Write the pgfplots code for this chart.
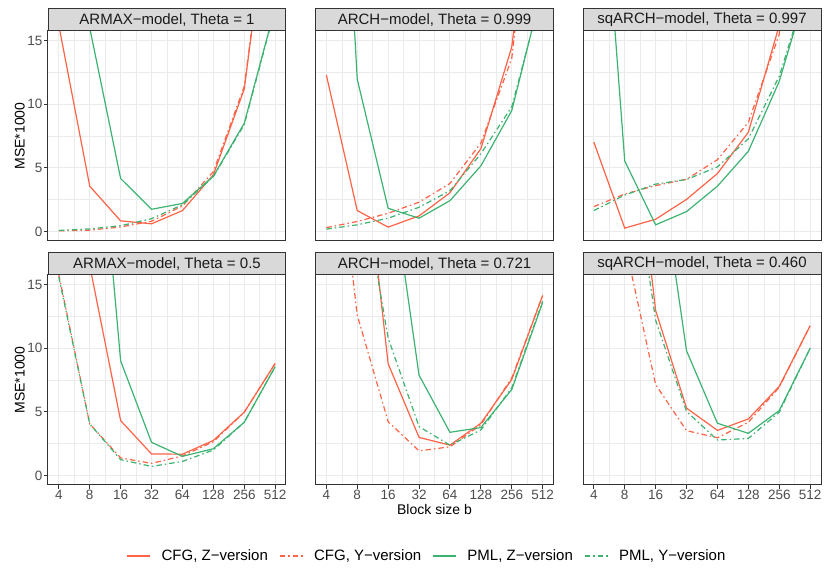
\documentclass[border=0pt]{standalone}
\usepackage{pgfplots}
\pgfplotsset{compat=1.18}
\usepackage{pgfplotstable}
\usepackage{fontspec}
\setmainfont{Liberation Sans}

\definecolor{cfg}{HTML}{FF6347}
\definecolor{pml}{HTML}{3CB371}
\definecolor{gridc}{HTML}{EBEBEB}
\definecolor{g20}{HTML}{333333}
\definecolor{g30}{HTML}{4D4D4D}
\definecolor{g85}{HTML}{D9D9D9}
\definecolor{g10}{HTML}{1A1A1A}

% x = log2(block size), columns: CFG Z, CFG Y, PML Z, PML Y
\pgfplotstableread{
b cz cy pz py
2 16.2 0.05 40 0.08
3 3.56 0.10 16 0.20
4 0.83 0.35 4.16 0.45
5 0.60 0.80 1.74 1.00
6 1.64 2.00 2.20 2.10
7 4.45 4.70 4.34 4.30
8 11.2 11.4 8.50 8.40
9 30 30 17.6 17.5
}\armaxA
\pgfplotstableread{
b cz cy pz py
2 12.3 0.30 56 0.18
3 1.64 0.78 11.96 0.52
4 0.34 1.43 1.82 1.04
5 1.22 2.30 1.04 1.90
6 3.04 3.77 2.42 3.20
7 6.50 6.94 5.15 6.10
8 14.5 13.6 9.50 9.80
9 35 35 19.2 19.0
}\archA
\pgfplotstableread{
b cz cy pz py
2 7.02 1.95 38 1.64
3 0.26 2.94 5.54 2.86
4 0.96 3.60 0.52 3.72
5 2.52 4.10 1.56 4.08
6 4.55 5.64 3.56 5.07
7 7.80 8.58 6.30 7.28
8 16.2 15.5 11.8 12.2
9 40 40 20 20
}\sqarchA
\pgfplotstableread{
b cz cy pz py
2 45 15.8 60 15.6
3 16.5 4.05 36.5 4.05
4 4.31 1.38 9.00 1.24
5 1.69 0.95 2.60 0.71
6 1.67 1.53 1.50 1.10
7 2.75 2.65 2.10 2.00
8 4.97 4.97 4.18 4.18
9 8.80 8.80 8.55 8.55
}\armaxB
\pgfplotstableread{
b cz cy pz py
2 60 33.6 70 60
3 30.6 12.6 45 24.9
4 8.78 4.23 25 10.8
5 2.99 1.93 7.88 3.84
6 2.38 2.25 3.39 2.38
7 4.10 3.97 3.76 3.57
8 7.54 7.67 6.75 6.88
9 14.15 14.15 13.6 13.7
}\archB
\pgfplotstableread{
b cz cy pz py
2 60 40 70 60
3 34 18.3 50 28.7
4 12.96 7.14 26.6 12.2
5 5.29 3.52 9.79 5.03
6 3.54 2.96 4.10 2.78
7 4.44 4.18 3.31 2.91
8 7.00 6.93 5.10 4.97
9 11.77 11.77 10.0 10.0
}\sqarchB

\pgfplotsset{
  panel/.style={
    scale only axis, width=238pt, height=210pt, anchor=south west,
    xmin=1.65, xmax=9.35, ymin=-0.75, ymax=15.75,
    xtick={2,...,9}, minor xtick={2.5,3.5,...,8.5},
    ytick={0,5,10,15}, minor ytick={2.5,7.5,12.5},
    grid=both,
    major grid style={gridc, line width=1pt},
    minor grid style={gridc, line width=0.5pt},
    axis line style={g20, line width=1pt},
    tick align=outside, tick pos=left,
    major tick length=4pt, minor tick length=0pt,
    tick style={g20, line width=1pt},
    tick label style={font=\fontsize{13.5}{16}\selectfont, text=g30},
    xticklabel style={inner sep=1pt},
    yticklabel style={inner sep=1.5pt},
    /pgf/number format/assume math mode=true,
    every axis y label/.style={at={(axis description cs:-0.118,0.5)}, rotate=90, anchor=center, font=\fontsize{14}{16}\selectfont},
    every axis x label/.style={at={(axis description cs:0.5,-0.119)}, anchor=center, font=\fontsize{14}{16}\selectfont},
  },
  toprow/.style={xticklabels={}, xtick style={draw=none}},
  botrow/.style={xticklabels={4,8,16,32,64,128,256,512}},
  leftcol/.style={yticklabels={0,5,10,15}, ylabel={MSE*1000}},
  othercol/.style={yticklabels={}, ytick style={draw=none}},
  cfgz/.style={cfg, line width=1.2pt},
  cfgy/.style={cfg, line width=1.2pt, dash pattern=on 5.5pt off 3pt on 1.5pt off 3pt},
  pmlz/.style={pml, line width=1.2pt},
  pmly/.style={pml, line width=1.2pt, dash pattern=on 5.5pt off 3pt on 1.5pt off 3pt},
}

\newcommand{\strip}[2]{%
  \draw[fill=g85, draw=g20, line width=1pt] (#1.north west) rectangle ([yshift=22pt]#1.north east);
  \node[font=\fontsize{15}{18}\selectfont, text=g10] at ([yshift=11pt]#1.north) {#2};}

\begin{document}
\begin{tikzpicture}
\useasboundingbox (0,0) rectangle (824pt,569pt);

\begin{axis}[panel, toprow, leftcol, name=p1, at={(48pt,328pt)}]
\addplot[cfgz] table[x=b, y=cz] {\armaxA};
\addplot[cfgy] table[x=b, y=cy] {\armaxA};
\addplot[pmlz] table[x=b, y=pz] {\armaxA};
\addplot[pmly] table[x=b, y=py] {\armaxA};
\end{axis}

\begin{axis}[panel, toprow, othercol, name=p2, at={(315.5pt,328pt)}]
\addplot[cfgz] table[x=b, y=cz] {\archA};
\addplot[cfgy] table[x=b, y=cy] {\archA};
\addplot[pmlz] table[x=b, y=pz] {\archA};
\addplot[pmly] table[x=b, y=py] {\archA};
\end{axis}

\begin{axis}[panel, toprow, othercol, name=p3, at={(583pt,328pt)}]
\addplot[cfgz] table[x=b, y=cz] {\sqarchA};
\addplot[cfgy] table[x=b, y=cy] {\sqarchA};
\addplot[pmlz] table[x=b, y=pz] {\sqarchA};
\addplot[pmly] table[x=b, y=py] {\sqarchA};
\end{axis}

\begin{axis}[panel, botrow, leftcol, name=p4, at={(48pt,84pt)}]
\addplot[cfgz] table[x=b, y=cz] {\armaxB};
\addplot[cfgy] table[x=b, y=cy] {\armaxB};
\addplot[pmlz] table[x=b, y=pz] {\armaxB};
\addplot[pmly] table[x=b, y=py] {\armaxB};
\end{axis}

\begin{axis}[panel, botrow, othercol, name=p5, at={(315.5pt,84pt)},
  xlabel={Block size b},
  legend columns=4,
  legend image code/.code={\draw[#1] (0pt,0pt) -- (23pt,0pt);},
  legend style={at={(axis description cs:0.464,-0.338)}, anchor=center,
    draw=none, fill=none, font=\fontsize{15}{18}\selectfont,
    nodes={inner sep=0pt}, /tikz/column sep=11pt},
]
\addplot[cfgz] table[x=b, y=cz] {\archB};
\addlegendentry{CFG, Z−version}
\addplot[cfgy] table[x=b, y=cy] {\archB};
\addlegendentry{CFG, Y−version}
\addplot[pmlz] table[x=b, y=pz] {\archB};
\addlegendentry{PML, Z−version}
\addplot[pmly] table[x=b, y=py] {\archB};
\addlegendentry{PML, Y−version}
\end{axis}

\begin{axis}[panel, botrow, othercol, name=p6, at={(583pt,84pt)}]
\addplot[cfgz] table[x=b, y=cz] {\sqarchB};
\addplot[cfgy] table[x=b, y=cy] {\sqarchB};
\addplot[pmlz] table[x=b, y=pz] {\sqarchB};
\addplot[pmly] table[x=b, y=py] {\sqarchB};
\end{axis}

\strip{p1}{ARMAX−model, Theta = 1}
\strip{p2}{ARCH−model, Theta = 0.999}
\strip{p3}{sqARCH−model, Theta = 0.997}
\strip{p4}{ARMAX−model, Theta = 0.5}
\strip{p5}{ARCH−model, Theta = 0.721}
\strip{p6}{sqARCH−model, Theta = 0.460}
\end{tikzpicture}
\end{document}
